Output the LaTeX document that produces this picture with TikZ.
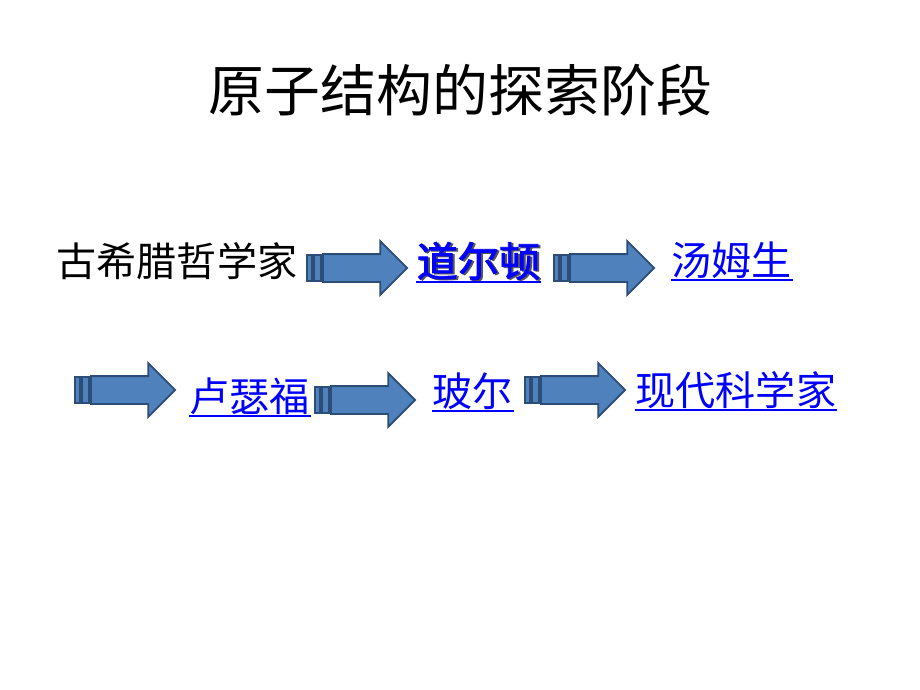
\documentclass[tikz,border=0pt]{standalone}
\usepackage{fontspec}
\setmainfont{Noto Sans CJK SC}
\newfontfamily\cjkbold[FakeBold=2]{Noto Sans CJK SC}
\usetikzlibrary{positioning,shapes.arrows}
\definecolor{arrowblue}{HTML}{4F81BD}
\definecolor{arrowedge}{HTML}{2C4D75}
\definecolor{linkblue}{HTML}{0000FF}
\definecolor{shadowgray}{HTML}{555555}

\begin{document}
\begin{tikzpicture}[x=0.01cm,y=-0.01cm]
    \useasboundingbox[fill=white] (0,0) rectangle (920,690);
    \begin{scope}[stripe/.style={draw=arrowedge,fill=arrowblue,line width=0.5pt,inner sep=0,outer sep=0,minimum height=0.26cm},
        barA/.style={stripe,minimum width=0.05cm},
        barB/.style={stripe,minimum width=0.07cm},
        bigarrow/.style={single arrow,draw=arrowedge,fill=arrowblue,line width=0.5pt,inner xsep=0,inner ysep=0.13cm,outer sep=0,
            minimum width=0.52cm,minimum height=0.84cm,single arrow head extend=0.13cm},
        plain/.style={anchor=west,inner sep=0,font=\fontsize{11.4pt}{14pt}\selectfont},
        link/.style={plain,text=linkblue},
        uline/.style={draw=linkblue,line width=0.6pt}]
        \node[anchor=west,inner sep=0,font=\fontsize{15.9pt}{19pt}\selectfont] (title) at (208,90) {原子结构的探索阶段};
        % first row
        \node[plain] (greek) at (56,261) {古希腊哲学家};
        \node[barA] (s1a) at (309.5,268) {};
        \node[barB,right=0.02cm of s1a] (s1b) {};
        \node[bigarrow,right=0.02cm of s1b] (a1) {};
        \node[plain,text=shadowgray,font=\fontsize{11.7pt}{14pt}\cjkbold] (dalshadow) at (418,262) {道尔顿};
        \node[link,font=\fontsize{11.7pt}{14pt}\cjkbold] (dalton) at (416,261) {道尔顿};
        \node[barA] (s2a) at (556.5,268) {};
        \node[barB,right=0.02cm of s2a] (s2b) {};
        \node[bigarrow,right=0.02cm of s2b] (a2) {};
        \node[link] (thomson) at (671,260) {汤姆生};
        % second row
        \node[barA] (s3a) at (77.5,390) {};
        \node[barB,right=0.02cm of s3a] (s3b) {};
        \node[bigarrow,right=0.02cm of s3b] (a3) {};
        \node[link] (rutherford) at (189,396) {卢瑟福};
        \node[barA] (s4a) at (317.5,400) {};
        \node[barB,right=0.02cm of s4a] (s4b) {};
        \node[bigarrow,right=0.02cm of s4b] (a4) {};
        \node[link] (bohr) at (432,391) {玻尔};
        \node[barA] (s5a) at (527.5,390) {};
        \node[barB,right=0.02cm of s5a] (s5b) {};
        \node[bigarrow,right=0.02cm of s5b] (a5) {};
        \node[link] (modern) at (635,390) {现代科学家};
        % underlines
        \draw[uline] ([yshift=-0.01cm]dalton.south west) -- ([yshift=-0.01cm]dalton.south east);
        \draw[uline] ([yshift=-0.01cm]thomson.south west) -- ([yshift=-0.01cm]thomson.south east);
        \draw[uline] ([yshift=-0.01cm]rutherford.south west) -- ([yshift=-0.01cm]rutherford.south east);
        \draw[uline] ([yshift=-0.01cm]bohr.south west) -- ([yshift=-0.01cm]bohr.south east);
        \draw[uline] ([yshift=-0.01cm]modern.south west) -- ([yshift=-0.01cm]modern.south east);
    \end{scope}
\end{tikzpicture}
\end{document}
